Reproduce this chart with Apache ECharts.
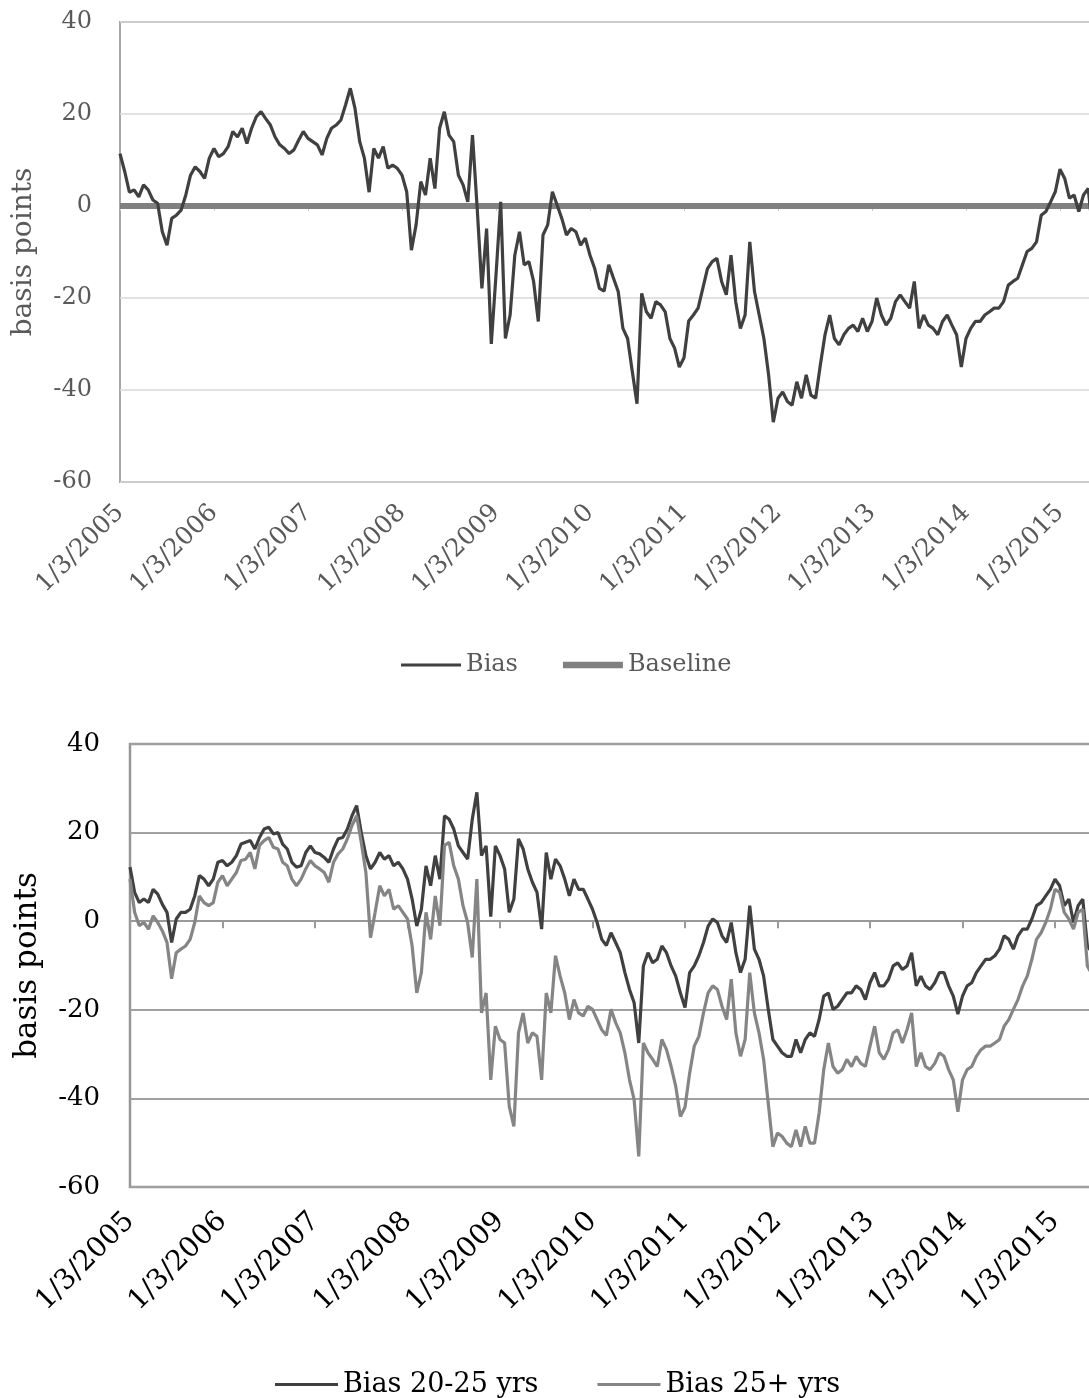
<!DOCTYPE html>
<html><head><meta charset="utf-8">
<script src="https://cdn.jsdelivr.net/npm/echarts/dist/echarts.min.js"></script>
<style>html,body{margin:0;padding:0;overflow:hidden;background:#fff}#c{width:1160px;height:1398px}</style>
</head><body><div id="c"></div><script>
// sampling: first point at 1/3/2005, one value every 0.05 year
const yearStart = 2005;
const yearStep = 0.05;
const yearLabels = ['1/3/2005','1/3/2006','1/3/2007','1/3/2008','1/3/2009','1/3/2010','1/3/2011','1/3/2012','1/3/2013','1/3/2014','1/3/2015'];

// top chart
const bias = [
 11.4,7.5,3,3.5,2,4.6,3.5,1.3,0.6,-5.6,-8.5,-2.7,-2,-0.9,2.4,6.7,8.5,7.5,6,10.4,
 12.5,10.7,11.4,12.9,16.2,15,16.9,13.6,16.9,19.4,20.5,19,17.6,15,13.3,12.5,11.4,12.2,14.3,16.2,
 14.7,14,13.3,11.1,14.7,16.9,17.6,18.7,22,25.6,21.2,14,10.4,3,12.5,10.4,12.9,8.2,8.9,8.2,
 6.7,3.1,-9.6,-4.1,5.3,2.4,10.4,3.8,16.9,20.5,15.4,14,6.7,4.6,0.9,15.4,-0.5,-17.9,-4.9,-30,
 -15,0.9,-28.8,-23.7,-10.7,-5.6,-12.8,-12.1,-16.4,-25.1,-6.3,-4.1,3.1,0.2,-2.7,-6.3,-4.9,-5.6,-8.5,-7,
 -10.7,-13.6,-17.9,-18.5,-12.8,-15.7,-18.6,-26.6,-28.8,-36,-43,-19,-23,-24.4,-20.8,-21.5,-23,-28.8,-30.9,-35,
 -33,-25,-23.7,-22.2,-17.9,-13.6,-12.1,-11.4,-16.4,-19.3,-10.7,-20.8,-26.6,-23.7,-7.8,-18.6,-23.7,-28.8,-36.7,-47,
 -41.8,-40.4,-42.5,-43.3,-38.2,-41.8,-36.7,-41.1,-41.8,-34.6,-28,-23.7,-28.8,-30.2,-28,-26.6,-25.9,-27.3,-24.4,-27.3,
 -25.1,-20,-23.7,-25.9,-24.4,-20.8,-19.3,-20.8,-22.2,-16.4,-26.6,-23.7,-25.9,-26.6,-28,-25.1,-23.7,-25.9,-28,-35,
 -28.8,-26.6,-25.1,-25.1,-23.7,-23,-22.2,-22.2,-20.8,-17.2,-16.4,-15.7,-12.8,-9.9,-9.2,-7.8,-2,-1.2,0.9,3.1,
 8,6,1.7,2.4,-1.2,2.4,3.8,-6,-8
];
const baselineYears = [2005, 2015.4];
const baseline = [0, 0];

// bottom chart
const bias2025 = [
 12.2,6.5,4.2,5,4.2,7.2,6.1,3.8,2,-4.8,0.5,2,2,2.7,5.7,10.3,9.5,8,9.5,13.3,
 13.7,12.5,13.3,14.8,17.4,17.8,18.2,16.3,18.9,20.8,21.2,19.7,20,17.4,16.3,13.3,12.2,12.5,15.5,17,
 15.5,15.2,14.4,13.3,16.3,18.6,18.9,20.8,23.8,26.1,20,14.8,11.8,13.3,15.5,14,14.8,12.5,13.3,11.8,
 9.5,5,-1.1,2.7,12.5,8,14.8,9.5,23.8,23,20.8,17,15.5,14,23,29.1,14.8,17,1,17,
 14.8,11.8,2,5,18.6,16.3,11.8,8.8,6.5,-1.8,15.5,9.5,14,12.5,9.5,5.7,9.5,7.2,7.2,5,
 2.7,-0.3,-4.1,-5.5,-2.6,-4.8,-7.1,-11.6,-15.4,-18.4,-27.5,-10.1,-7.1,-9.4,-8.6,-5.6,-7.1,-10.1,-12.4,-16.2,
 -19.5,-11.6,-10.1,-7.8,-4.8,-1.1,0.5,-0.3,-3.3,-4.8,-0.3,-7.1,-11.6,-8.6,3.5,-6.3,-8.6,-12.4,-19.9,-26.7,
 -28.2,-29.7,-30.5,-30.5,-26.7,-29.7,-26.7,-25.2,-26,-22.2,-16.9,-16.2,-19.9,-19.2,-17.7,-16.2,-16.2,-14.6,-15.4,-17.7,
 -13.9,-11.6,-14.6,-14.6,-13.1,-10.1,-9.4,-10.9,-10.1,-7.1,-14.6,-12.4,-14.6,-15.4,-13.9,-11.6,-11.6,-14.6,-16.9,-21,
 -16.9,-14.6,-13.9,-11.6,-10.1,-8.6,-8.6,-7.8,-6.3,-3.3,-4.1,-6.3,-3.3,-1.8,-1.8,0.5,3.5,4.2,5.7,7.2,
 9.5,8,3.5,5,-0.3,3.5,5,-5.6,-7
];
const bias25plus = [
 9.5,2,-1,-0.3,-1.8,1.2,-0.3,-2.2,-4.8,-13,-7.1,-6.3,-5.6,-4.1,-0.3,5.7,4.2,3.5,4.2,8.8,
 10.3,8,9.5,11,13.7,14,15.5,11.8,17.1,18.2,18.9,16.7,16.3,13.3,12.5,9.5,8,9.5,11.8,13.7,
 12.5,11.8,11,8.8,13.3,15.2,16.3,18.6,21.6,23.8,17.8,11,-3.7,2,8,5.7,7.2,2.7,3.5,2,
 0.5,-5.6,-16.2,-11.6,2,-4.1,5.7,-1,17.1,17.8,12.5,9.5,3.5,-0.3,-8.2,9.5,-20.7,-16.2,-35.8,-23.7,
 -26.7,-27.5,-41.8,-46.3,-25.2,-20.7,-27.5,-25.2,-26,-35.8,-16.2,-20.7,-7.8,-12.4,-16.2,-22.2,-17.7,-20.7,-21.4,-19.2,
 -19.9,-22.2,-24.5,-25.8,-19.9,-22.9,-25.2,-29.7,-35.8,-40.3,-53.1,-27.5,-29.7,-31.2,-32.8,-26.7,-29,-32.8,-37.3,-44.1,
 -42,-34.3,-28.2,-26,-20.7,-16.2,-14.6,-15.4,-19.2,-22.2,-13.1,-25.2,-30.5,-26.7,-11.6,-20.7,-25.2,-31.2,-41.1,-50.9,
 -47.8,-48.6,-50.1,-50.9,-47.1,-50.9,-46.3,-50.1,-50.1,-43.3,-33.5,-27.5,-32.8,-34.3,-33.5,-31.2,-32.8,-30.5,-32.1,-32.8,
 -28.2,-23.7,-29.7,-31.2,-29,-25.2,-24.5,-27.5,-24.5,-20.7,-32.8,-29.7,-32.8,-33.5,-32.1,-29.7,-30.5,-33.5,-35.8,-43,
 -35.8,-33.5,-32.8,-30.5,-29,-28.2,-28.2,-27.5,-26.7,-23.7,-22.2,-19.9,-17.7,-14.6,-12.4,-8.6,-4.1,-2.6,-0.3,2.7,
 7.2,6.5,2,0.5,-1.8,2,2.7,-10.1,-12
];

const FONT = 'DejaVu Serif';
const pts = arr => arr.map((v, i) => [yearStart + i * yearStep, v]);
const fmt = v => { const k = Math.round(v) - yearStart; return (k >= 0 && k < yearLabels.length) ? yearLabels[k] : ''; };
const THIN_ICON = 'path://M0 0H60V3H0Z';
const THICK_ICON = 'path://M0 0H60V6.5H0Z';

function xAxes(grid, labelColor, labelSize, margin, zeroColor, zeroWidth, tickLen) {
  return [
    { gridIndex: grid, type: 'value', min: 2005, max: 2016, interval: 1, position: 'bottom',
      axisLine: { show: false, onZero: false }, axisTick: { show: false }, splitLine: { show: false },
      axisLabel: { rotate: 45, margin: margin, fontFamily: FONT, fontSize: labelSize, color: labelColor, formatter: fmt, showMaxLabel: false } },
    { gridIndex: grid, type: 'value', min: 2005, max: 2016, interval: 1, position: 'bottom',
      axisLine: { show: true, onZero: true, lineStyle: { color: zeroColor, width: zeroWidth } },
      axisTick: { show: true, length: tickLen, lineStyle: { color: zeroColor, width: zeroWidth } },
      axisLabel: { show: false }, splitLine: { show: false } }
  ];
}

const chart = echarts.init(document.getElementById('c'), null, { renderer: 'canvas' });
chart.setOption({
  animation: false,
  backgroundColor: '#fff',
  grid: [
    { left: 120, top: 22, width: 1034, height: 460, show: true, borderColor: '#a6a6a6', borderWidth: 2 },
    { left: 130, top: 744, width: 1017.5, height: 443, show: true, borderColor: '#969696', borderWidth: 2.5 }
  ],
  xAxis: [].concat(
    xAxes(0, '#595959', 25, 27, '#c8c8c8', 1, 5),
    xAxes(1, '#000', 28, 30, '#999', 2, 7)
  ),
  yAxis: [
    { gridIndex: 0, type: 'value', min: -60, max: 40, interval: 20,
      axisLine: { show: false }, axisTick: { show: false },
      splitLine: { lineStyle: { color: '#d9d9d9', width: 1.5 } },
      axisLabel: { margin: 28, fontFamily: FONT, fontSize: 24, color: '#595959' },
      name: 'basis points', nameLocation: 'middle', nameGap: 82,
      nameTextStyle: { fontFamily: FONT, fontSize: 28, color: '#595959' } },
    { gridIndex: 1, type: 'value', min: -60, max: 40, interval: 20,
      axisLine: { show: false }, axisTick: { show: false },
      splitLine: { lineStyle: { color: '#a0a0a0', width: 2 } },
      axisLabel: { margin: 30, fontFamily: FONT, fontSize: 26, color: '#000' },
      name: 'basis points', nameLocation: 'middle', nameGap: 87,
      nameTextStyle: { fontFamily: FONT, fontSize: 31, color: '#000' } }
  ],
  legend: [
    { left: 396, top: 648, itemWidth: 60, itemHeight: 14, itemGap: 45,
      data: [{ name: 'Bias', icon: THIN_ICON }, { name: 'Baseline', icon: THICK_ICON }],
      textStyle: { fontFamily: FONT, fontSize: 24, color: '#595959' } },
    { left: 270, top: 1366, itemWidth: 63, itemHeight: 14, itemGap: 59,
      data: [{ name: 'Bias 20-25 yrs', icon: THIN_ICON }, { name: 'Bias 25+ yrs', icon: THIN_ICON }],
      textStyle: { fontFamily: FONT, fontSize: 27, color: '#000' } }
  ],
  series: [
    { name: 'Bias', type: 'line', xAxisIndex: 0, yAxisIndex: 0, data: pts(bias), symbol: 'none', z: 4,
      lineStyle: { color: '#404040', width: 3.2 }, itemStyle: { color: '#404040' } },
    { name: 'Baseline', type: 'line', xAxisIndex: 0, yAxisIndex: 0, data: baselineYears.map((x, i) => [x, baseline[i]]), symbol: 'none', z: 3,
      lineStyle: { color: '#808080', width: 6 }, itemStyle: { color: '#808080' } },
    { name: 'Bias 20-25 yrs', type: 'line', xAxisIndex: 2, yAxisIndex: 1, data: pts(bias2025), symbol: 'none', z: 3,
      lineStyle: { color: '#404040', width: 3.2 }, itemStyle: { color: '#404040' } },
    { name: 'Bias 25+ yrs', type: 'line', xAxisIndex: 2, yAxisIndex: 1, data: pts(bias25plus), symbol: 'none', z: 4,
      lineStyle: { color: '#858585', width: 3.2 }, itemStyle: { color: '#858585' } }
  ]
});
</script></body></html>
